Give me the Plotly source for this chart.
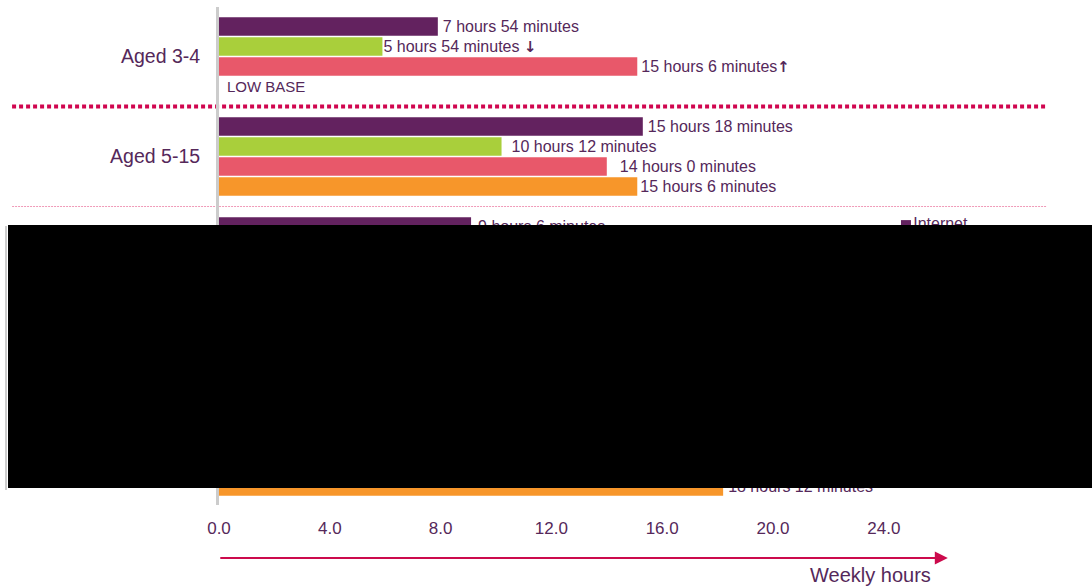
import plotly.graph_objects as go

# Weekly hours of media use by age group
groups = ["Aged 3-4", "Aged 5-15", "Aged 5-7", "Aged 8-11", "Aged 12-15"]
series = ["Internet", "Gaming", "TV", "Mobile phone"]
colors = ["#63225f", "#a9cf3b", "#e8586a", "#f7962a"]

# hours and minutes per series, one entry per age group (None = no value shown)
internet_h = [7, 15, 9, 13, 20]
internet_m = [54, 18, 6, 42, 54]
gaming_h = [5, 10, 7, 10, 12]
gaming_m = [54, 12, 30, 12, 0]
tv_h = [15, 14, 13, 13, 15]
tv_m = [6, 0, 36, 12, 12]
mobile_h = [None, 15, 6, 9, 18]
mobile_m = [None, 6, 48, 42, 12]

hours = [internet_h, gaming_h, tv_h, mobile_h]
minutes = [internet_m, gaming_m, tv_m, mobile_m]

# change markers shown after a label
changes = [
    ["", "", "", "", ""],
    ["down", "", "", "", ""],
    ["up", "", "", "", ""],
    ["", "", "", "", ""],
]
no_value_note = "LOW BASE"

x_ticks = [0, 4, 8, 12, 16, 20, 24]
X_MAX = 30

# label gaps after each bar end (px)
label_gap = [
    [5, 5, 7, 5, 5],
    [1, 10, 5, 5, 5],
    [4, 13, 5, 5, 5],
    [5, 3, 5, 5, 5],
]
LABEL_DROP = 0.07  # small downward nudge of value labels, in rows

TEXT = "#55285a"
FONT = "Liberation Sans, Arial, Helvetica, sans-serif"
ROWS_PER_GROUP = 5
WIDTH, HEIGHT = 1092, 587
MARGIN = dict(l=219, r=42, t=7, b=82)
PX_PER_HOUR = (WIDTH - MARGIN["l"] - MARGIN["r"]) / X_MAX

ARROWS = {
    "down": ' <span style="font-family:DejaVu Sans;font-size:15px"><b>↓</b></span>',
    "up": '<span style="font-family:DejaVu Sans;font-size:15px"><b>↑</b></span>',
}

fig = go.Figure()

for s, name in enumerate(series):
    xs, ys = [], []
    lx, ly, lt = [], [], []
    for g in range(len(groups)):
        row = g * ROWS_PER_GROUP + s
        h, m = hours[s][g], minutes[s][g]
        if h is None:
            lx.append(8 / PX_PER_HOUR)
            ly.append(row + LABEL_DROP)
            lt.append(f'<span style="font-size:15px">{no_value_note}</span>')
            continue
        value = h + m / 60
        xs.append(value)
        ys.append(row)
        lx.append(value + label_gap[s][g] / PX_PER_HOUR)
        ly.append(row + LABEL_DROP)
        lt.append(f"{h} hours {m} minutes" + ARROWS.get(changes[s][g], ""))
    fig.add_trace(go.Bar(
        x=xs, y=ys, orientation="h", name=name,
        marker=dict(color=colors[s], line=dict(width=0)),
        width=0.93, hoverinfo="skip", showlegend=False))
    fig.add_trace(go.Scatter(
        x=lx, y=ly, mode="text", text=lt, textposition="middle right",
        textfont=dict(family=FONT, size=16, color=TEXT),
        cliponaxis=False, hoverinfo="skip", showlegend=False))

# series key, placed inside the plot area
key_x = 24.8
key_row0 = 9.93
key_step = 1.2
fig.add_trace(go.Scatter(
    x=[key_x] * len(series),
    y=[key_row0 + k * key_step for k in range(len(series))],
    mode="markers+text", text=series, textposition="middle right",
    marker=dict(symbol="square", size=10, color=colors),
    textfont=dict(family=FONT, size=16, color=TEXT),
    cliponaxis=False, hoverinfo="skip", showlegend=False))

annotations = [
    # axis title with arrow
    dict(x=0.877, y=-0.1064, xref="paper", yref="paper", text="",
         showarrow=True, ax=-729, ay=0, axref="pixel", ayref="pixel",
         arrowhead=2, arrowsize=1.3, arrowwidth=2, arrowcolor="#cc0a4c"),
    dict(x=0.859, y=-0.1406, xref="paper", yref="paper", text="Weekly hours",
         showarrow=False, xanchor="right", yanchor="middle",
         font=dict(family=FONT, size=20, color=TEXT)),
]

shapes = []
# separators between age groups
for g in range(len(groups) - 1):
    row = g * ROWS_PER_GROUP + 4
    if g == 0:
        line = dict(color="#d0064f", width=4, dash="4px,3px")
    else:
        line = dict(color="#f09ab8", width=1, dash="2px,1px")
    shapes.append(dict(type="line", xref="paper", yref="y",
                       x0=-0.249, x1=0.9964, y0=row, y1=row, line=line,
                       layer="below"))

# redaction block
shapes.append(dict(type="rect", xref="paper", yref="paper",
                   x0=-0.2539, x1=1.06, y0=0.0341, y1=0.5622,
                   fillcolor="#000000", line=dict(width=0), layer="above"))
shapes.append(dict(type="line", xref="paper", yref="paper",
                   x0=-0.2563, x1=-0.2563, y0=0.0301, y1=0.5602,
                   line=dict(color="#9a9a9a", width=1), layer="above"))

n_rows = len(groups) * ROWS_PER_GROUP

fig.update_layout(
    width=WIDTH, height=HEIGHT,
    margin=MARGIN,
    paper_bgcolor="white", plot_bgcolor="white",
    barmode="overlay",
    font=dict(family=FONT, color=TEXT),
    xaxis=dict(range=[0, X_MAX], tickvals=x_ticks,
               ticktext=[f"{v:.1f}" for v in x_ticks],
               showgrid=False, zeroline=False, showline=False,
               ticks="outside", ticklen=8, tickcolor="rgba(0,0,0,0)",
               tickfont=dict(family=FONT, size=17, color=TEXT)),
    yaxis=dict(range=[n_rows - 1.075, -0.975],
               tickvals=[g * ROWS_PER_GROUP + 1.5 for g in range(len(groups))],
               ticktext=groups,
               tickfont=dict(family=FONT, size=19.5, color=TEXT),
               ticks="outside", ticklen=12, tickcolor="rgba(0,0,0,0)",
               showgrid=False, zeroline=False, showline=True,
               linecolor="#cccccc", linewidth=3),
    annotations=annotations,
    shapes=shapes,
)

fig.write_html("out.html")
